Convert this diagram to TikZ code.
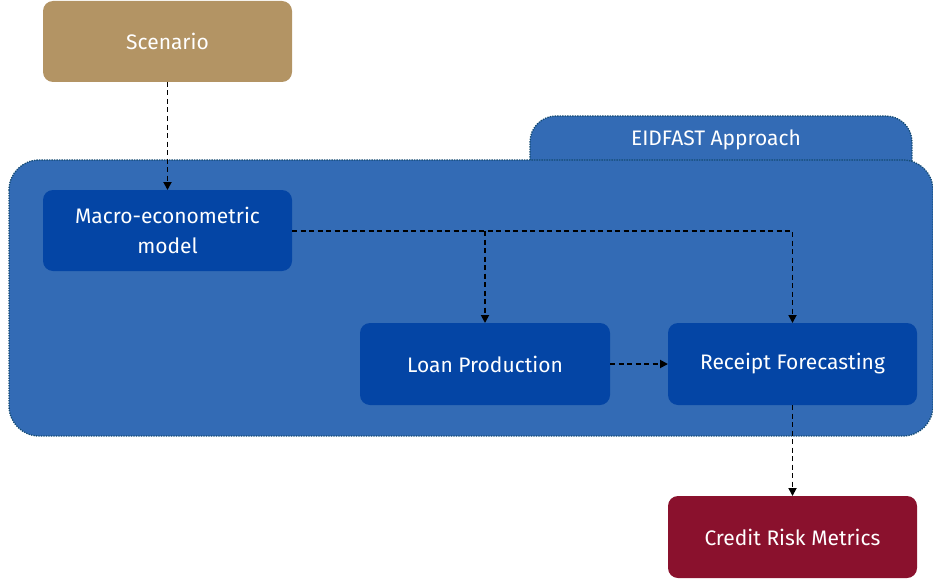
\documentclass[tikz,border=0pt]{standalone}
\usepackage{fontspec}
\setmainfont{Fira Sans}
\usetikzlibrary{arrows.meta}
\definecolor{cont}{HTML}{336BB5}
\definecolor{dkblue}{HTML}{0445A5}
\definecolor{tan}{HTML}{B39464}
\definecolor{wine}{HTML}{8A112D}
\definecolor{edge}{HTML}{134A72}
\tikzset{
  box/.style={text=white, font=\fontsize{21}{30}\selectfont, align=center, inner sep=0pt},
  conn/.style={draw=black, line width=1.8pt, dash pattern=on 5pt off 3.5pt, -{Triangle[length=8pt,width=8pt]}},
  frame/.style={fill=cont, draw=edge, dash pattern=on 1.3pt off 1.2pt, line width=1.3pt},
}
\begin{document}
\begin{tikzpicture}[x=1pt,y=-1pt]
\useasboundingbox (0,0) rectangle (933,583);
% tab
\path[frame, rounded corners=26pt]
  (530,175) -- (530,116) -- (912,116) -- (912,175);
\node[text=white, font=\fontsize{21}{26}\selectfont] (tab) at (716,140) {EIDFAST Approach};
% container
\path[frame, rounded corners=30pt]
  (9,160) rectangle (933,436);
% boxes
\path[fill=tan, rounded corners=10pt] (43,1) rectangle (292,82);
\node[box] (scen) at (167.5,41.5) {Scenario};
\path[fill=dkblue, rounded corners=10pt] (43,190) rectangle (292,271);
\node[box] (macro) at (167.5,230.5) {Macro-econometric\\model};
\path[fill=dkblue, rounded corners=10pt] (360,323) rectangle (610,405);
\node[box] (loan) at (485,364) {Loan Production};
\path[fill=dkblue, rounded corners=10pt] (668,323) rectangle (917,405);
\node[box] (rec) at (792.5,364) {Receipt Forecasting};
\path[fill=wine, rounded corners=10pt] (668,496) rectangle (917,578);
\node[box] (crm) at (792.5,537) {Credit Risk Metrics};
% anchors
\coordinate (scenB) at (167.5,82);
\coordinate (macroT) at (167.5,190);
\coordinate (macroR) at (292,231);
\coordinate (br1) at (485,231);
\coordinate (br2) at (792.5,231);
\coordinate (loanT) at (485,323);
\coordinate (loanR) at (610,364);
\coordinate (recT) at (792.5,323);
\coordinate (recL) at (668,364);
\coordinate (recB) at (792.5,405);
\coordinate (crmT) at (792.5,496);
\draw[conn] (scenB) -- (macroT);
\draw[conn] (macroR) -- (br2) -- (recT);
\draw[conn] (br1) -- (loanT);
\draw[conn] (loanR) -- (recL);
\draw[conn] (recB) -- (crmT);
\end{tikzpicture}
\end{document}
